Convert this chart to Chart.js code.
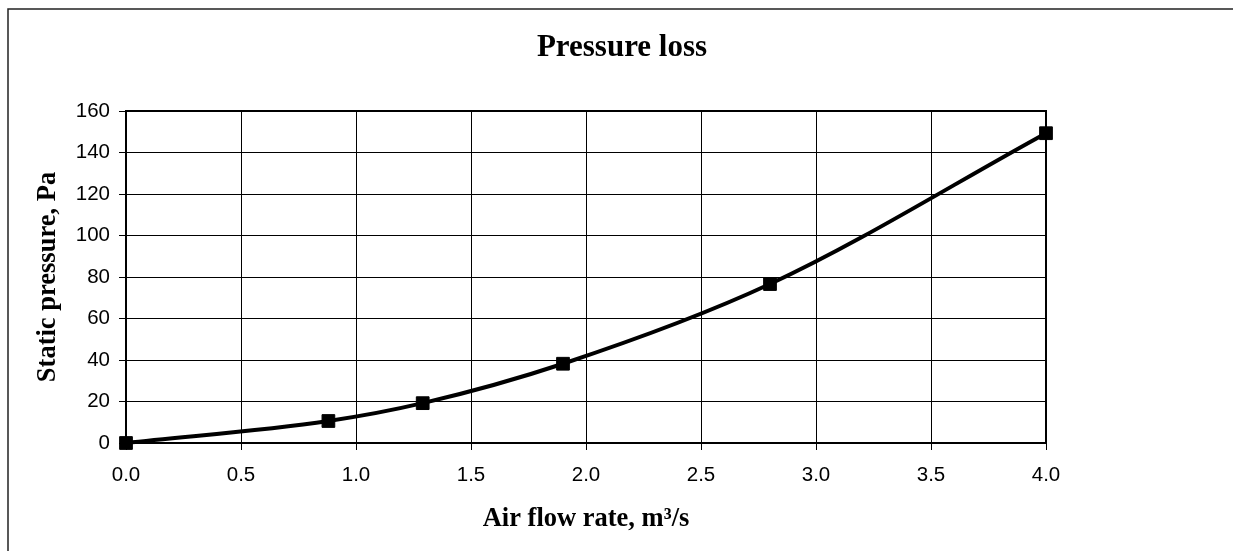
<!DOCTYPE html>
<html>
<head>
<meta charset="utf-8">
<script src="https://cdn.jsdelivr.net/npm/chart.js@4.4.0/dist/chart.umd.min.js"></script>
<style>
  html, body { margin: 0; padding: 0; background: #fff; }
  #wrap { width: 1233px; height: 551px; position: relative; }
</style>
</head>
<body>
<div id="wrap"><canvas id="canvas"></canvas></div>
<script>
// air flow rate (m3/s) and static pressure (Pa)
var flowRates = [0, 0.88, 1.29, 1.9, 2.8, 4.0];
var pressures = [0, 10.6, 19.2, 38.2, 76.6, 149.3];
var chartTitle = 'Pressure loss';
var xTitle = 'Air flow rate, m\u00b3/s';
var yTitle = 'Static pressure, Pa';

var points = [];
for (var i = 0; i < flowRates.length; i++) {
  points.push({ x: flowRates[i], y: pressures[i] });
}

// frame of the whole picture + title + plot box
var framePlugin = {
  id: 'frame',
  beforeDatasetsDraw: function (chart) {
    var ctx = chart.ctx, a = chart.chartArea;
    ctx.save();
    ctx.strokeStyle = '#000';
    ctx.lineWidth = 2;
    ctx.beginPath();
    ctx.moveTo(a.left, a.top);
    ctx.lineTo(a.right, a.top);
    ctx.lineTo(a.right, a.bottom);
    ctx.stroke();
    ctx.restore();
  },
  afterDraw: function (chart) {
    var ctx = chart.ctx;
    ctx.save();
    ctx.strokeStyle = '#222';
    ctx.lineWidth = 1.5;
    ctx.beginPath();
    ctx.moveTo(8, 551);
    ctx.lineTo(8, 9);
    ctx.lineTo(1233, 9);
    ctx.stroke();
    ctx.fillStyle = '#000';
    ctx.font = 'bold 31px "Liberation Serif", "Times New Roman", serif';
    ctx.textAlign = 'center';
    ctx.textBaseline = 'alphabetic';
    ctx.fillText(chartTitle, 622, 56);
    ctx.restore();
  }
};

var tickFont = { family: '"Liberation Sans", Arial, sans-serif', size: 20.5 };
var axisTitleFont = { family: '"Liberation Serif", "Times New Roman", serif', size: 26.5, weight: 'bold' };

var ctx = document.getElementById('canvas').getContext('2d');
var chart = new Chart(ctx, {
  type: 'line',
  data: {
    datasets: [{
      label: 'Pressure loss',
      data: points,
      borderColor: '#000',
      backgroundColor: '#000',
      borderWidth: 4,
      cubicInterpolationMode: 'monotone',
      fill: false,
      clip: false,
      pointStyle: 'rect',
      pointRadius: 9,
      pointBorderWidth: 1,
      pointBackgroundColor: '#000',
      pointBorderColor: '#000'
    }]
  },
  options: {
    responsive: true,
    maintainAspectRatio: false,
    animation: false,
    layout: { padding: { top: 111, right: 187, left: 0, bottom: 0 } },
    plugins: {
      legend: { display: false },
      tooltip: { enabled: false },
      title: { display: false }
    },
    scales: {
      x: {
        type: 'linear',
        min: 0,
        max: 4,
        afterFit: function (s) { s.height = 108; },
        ticks: {
          stepSize: 0.5,
          color: '#000',
          font: tickFont,
          padding: 13,
          maxRotation: 0,
          callback: function (v) { return v.toFixed(1); }
        },
        grid: { color: '#000', lineWidth: 1, tickLength: 7 },
        border: { color: '#000', width: 2 },
        title: { display: true, text: xTitle, color: '#000', font: axisTitleFont, padding: { top: 0, bottom: 16 } }
      },
      y: {
        min: 0,
        max: 160,
        afterFit: function (s) { s.width = 126; },
        ticks: {
          stepSize: 20,
          color: '#000',
          font: tickFont,
          padding: 9
        },
        grid: { color: '#000', lineWidth: 1, tickLength: 7 },
        border: { color: '#000', width: 2 },
        title: { display: true, text: yTitle, color: '#000', font: axisTitleFont, padding: { top: 32, bottom: 0 } }
      }
    }
  },
  plugins: [framePlugin]
});
</script>
</body>
</html>
